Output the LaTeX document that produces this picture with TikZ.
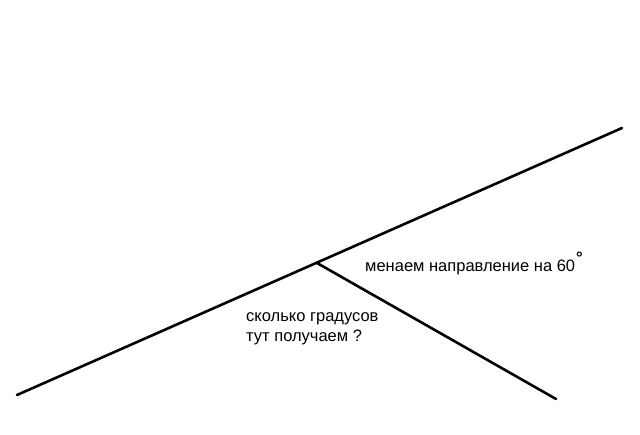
\documentclass[tikz,border=0pt]{standalone}
\usepackage{fontspec}
\setmainfont{Liberation Sans}
\usetikzlibrary{positioning}

\begin{document}
\begin{tikzpicture}[x=1pt,y=-1pt,
    ray/.style={line width=2.6pt,line cap=round},
    note/.style={anchor=base west,inner sep=0pt,font=\fontsize{16.5}{20.5}\selectfont,align=left}]
        \useasboundingbox (0,0) rectangle (640,435);
        \coordinate (L) at (17,395);
        \coordinate (R) at (622,128);
        \coordinate (V) at (317,263);
        \coordinate (E) at (556,399);
        \draw[ray] (L) -- (R);
        \draw[ray] (V) -- (E);

        \node (turn) at (365,272) [note] {менаем направление на 60\raisebox{8pt}{\hspace{1pt}\textbf{\textdegree}}};
        \node (ask) at (246,342) [note] {сколько градусов\\тут получаем ?};
    \end{tikzpicture}
\end{document}
